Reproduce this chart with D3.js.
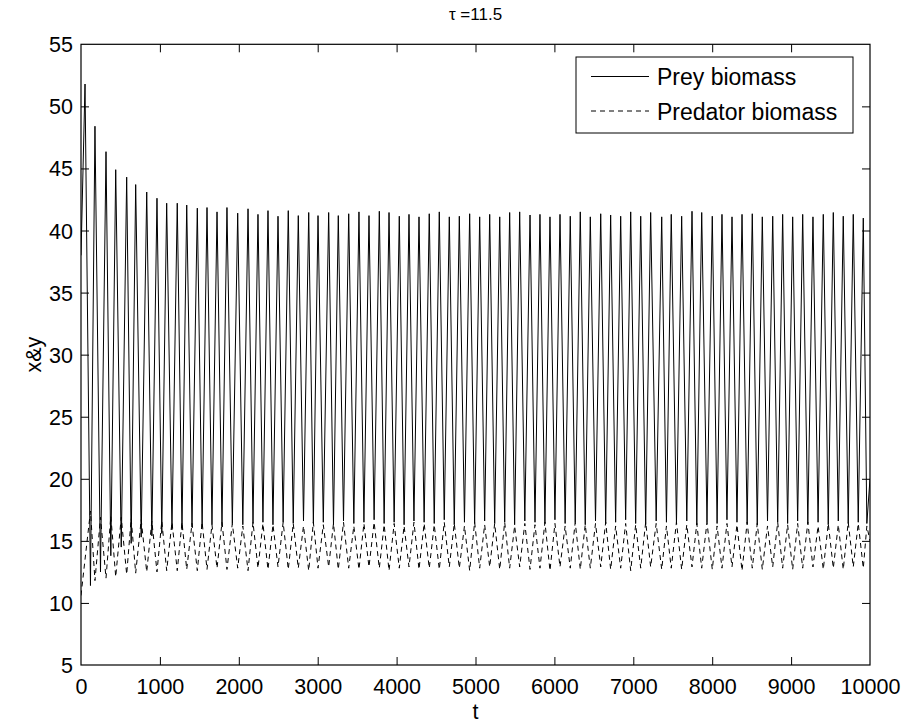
<!DOCTYPE html>
<html>
<head>
<meta charset="utf-8">
<script src="https://cdn.jsdelivr.net/npm/d3@7"></script>
<style>
  html, body { margin: 0; padding: 0; background: #fff; }
  svg { display: block; }
  text { font-family: "Liberation Sans", Arial, Helvetica, sans-serif; fill: #000; }
</style>
</head>
<body>
<svg id="chart" width="907" height="728"></svg>
<script>
// ---------------- data ----------------
const titleText = "\u03C4 =11.5";
const xLabel = "t";
const yLabel = "x&y";
const seriesNames = ["Prey biomass", "Predator biomass"];
const xTicks = [0, 1000, 2000, 3000, 4000, 5000, 6000, 7000, 8000, 9000, 10000];
const yTicks = [5, 10, 15, 20, 25, 30, 35, 40, 45, 50, 55];

// start / end samples
const edgeT    = [0, 10000];
const edgePrey = [38, 20];
const edgePred = [10.6, 15];

// times of prey maxima
const peakT = [51, 177, 317, 440, 579, 693, 833, 963, 1086, 1220,
  1340, 1474, 1597, 1724, 1850, 1986, 2117, 2243, 2370, 2497,
  2627, 2754, 2886, 3004, 3139, 3261, 3393, 3523, 3650, 3781,
  3904, 4034, 4157, 4284, 4414, 4541, 4668, 4795, 4926, 5053,
  5180, 5307, 5433, 5560, 5691, 5817, 5944, 6071, 6201, 6328,
  6455, 6587, 6713, 6840, 6967, 7094, 7220, 7360, 7481, 7613,
  7744, 7867, 8001, 8124, 8251, 8378, 8508, 8635, 8767, 8893,
  9020, 9147, 9277, 9408, 9535, 9661, 9788, 9915];
// prey values at those times
const peakPrey = [51.8, 48.4, 46.35, 44.9, 44.3, 43.7, 43.1, 42.6, 42.2, 42.2,
  42.05, 41.8, 41.85, 41.5, 41.85, 41.4, 41.75, 41.3, 41.6, 41.15,
  41.6, 41.2, 41.45, 41.2, 41.45, 41.2, 41.35, 41.5, 41.2, 41.55,
  41.45, 41.15, 41.3, 41.1, 41.35, 41.5, 41.1, 41.15, 41.35, 41.1,
  41.3, 41.1, 41.45, 41.5, 41.25, 41.3, 41.1, 41.3, 41.15, 41.5,
  41.1, 41.35, 41.25, 41.15, 41.5, 41.15, 41.45, 41.1, 41.3, 41.15,
  41.55, 41.45, 41.15, 41.3, 41.1, 41.3, 41.35, 41.1, 41.15, 41.3,
  41.1, 41.3, 41.1, 41.3, 41.45, 41.15, 41.3, 41.0];
// predator values at those times
const peakPred = [13.5, 11.8, 12.0, 12.1, 12.3, 12.4, 12.5, 12.5, 12.6, 12.6,
  12.7, 12.6, 12.7, 12.8, 12.7, 12.8, 12.6, 12.8, 12.7, 12.9,
  12.7, 12.8, 12.6, 12.8, 12.9, 12.7, 12.8, 12.7, 12.9, 12.8,
  12.6, 12.8, 12.9, 12.7, 12.8, 12.7, 12.9, 12.8, 12.6, 12.8,
  12.9, 12.7, 12.8, 12.9, 12.7, 12.8, 12.6, 12.9, 12.8, 12.7,
  12.8, 12.9, 12.7, 12.8, 12.6, 12.8, 12.9, 12.7, 12.8, 12.7,
  12.9, 12.8, 12.7, 12.8, 12.9, 12.6, 12.8, 12.7, 12.9, 12.8,
  12.7, 12.8, 12.9, 12.7, 12.8, 12.7, 12.9, 12.8];

// times of prey minima
const troughT = [120, 247, 378, 510, 636, 763, 898, 1024, 1153, 1280,
  1407, 1535, 1660, 1787, 1918, 2051, 2180, 2306, 2433, 2562,
  2690, 2820, 2945, 3071, 3200, 3327, 3458, 3586, 3715, 3842,
  3969, 4095, 4220, 4349, 4477, 4604, 4731, 4860, 4989, 5116,
  5243, 5370, 5496, 5625, 5754, 5880, 6007, 6136, 6264, 6391,
  6521, 6650, 6776, 6903, 7030, 7157, 7290, 7420, 7547, 7678,
  7805, 7934, 8062, 8187, 8314, 8443, 8571, 8701, 8830, 8956,
  9083, 9212, 9342, 9471, 9598, 9724, 9851, 9960];
const troughPrey = [11.4, 12.5, 13.8, 14.5, 14.8, 15.3, 15.4, 15.6, 15.9, 15.9,
  16.1, 16.1, 16.3, 16.2, 16.4, 16.3, 16.4, 16.5, 16.3, 16.5,
  16.4, 16.6, 16.4, 16.5, 16.3, 16.6, 16.4, 16.5, 16.7, 16.4,
  16.5, 16.3, 16.6, 16.5, 16.4, 16.7, 16.3, 16.5, 16.4, 16.6,
  16.4, 16.5, 16.3, 16.6, 16.5, 16.4, 16.7, 16.4, 16.5, 16.3,
  16.6, 16.4, 16.5, 16.7, 16.4, 16.3, 16.6, 16.5, 16.4, 16.6,
  16.3, 16.5, 16.4, 16.7, 16.5, 16.4, 16.3, 16.6, 16.5, 16.4,
  16.6, 16.4, 16.5, 16.3, 16.6, 16.4, 16.5, 16.4];
const troughPred = [17.4, 16.9, 17.0, 16.9, 16.8, 16.7, 16.6, 16.6, 16.5, 16.5,
  16.4, 16.5, 16.3, 16.5, 16.4, 16.2, 16.5, 16.4, 16.3, 16.5,
  16.4, 16.2, 16.5, 16.3, 16.4, 16.5, 16.2, 16.4, 16.5, 16.3,
  16.4, 16.2, 16.5, 16.4, 16.3, 16.5, 16.4, 16.2, 16.5, 16.3,
  16.4, 16.5, 16.2, 16.4, 16.3, 16.5, 16.4, 16.2, 16.5, 16.3,
  16.4, 16.5, 16.2, 16.4, 16.3, 16.5, 16.4, 16.2, 16.5, 16.3,
  16.4, 16.5, 16.2, 16.4, 16.3, 16.5, 16.4, 16.2, 16.5, 16.3,
  16.4, 16.5, 16.2, 16.4, 16.3, 16.5, 16.4, 16.2];

// ---------------- build the sampled table ----------------
const samples = [];
edgeT.forEach((t, i) => samples.push({t, prey: edgePrey[i], pred: edgePred[i]}));
peakT.forEach((t, i) => samples.push({t, prey: peakPrey[i], pred: peakPred[i]}));
troughT.forEach((t, i) => samples.push({t, prey: troughPrey[i], pred: troughPred[i]}));
samples.sort((a, b) => a.t - b.t);

// ---------------- layout ----------------
const svg = d3.select("#chart");
const mLeft = 81, mRight = 870, mTop = 44.3, mBottom = 665;
const x = d3.scaleLinear().domain([0, 10000]).range([mLeft, mRight]);
const y = d3.scaleLinear().domain([5, 55]).range([mBottom, mTop]);

const fontTick = "21.5px";

svg.append("rect").attr("x", 0).attr("y", 0).attr("width", 907).attr("height", 728).attr("fill", "#fff");

svg.append("clipPath").attr("id", "clip")
  .append("rect").attr("x", mLeft).attr("y", mTop).attr("width", mRight - mLeft).attr("height", mBottom - mTop);

const plot = svg.append("g").attr("clip-path", "url(#clip)");

const linePrey = d3.line().x(d => x(d.t)).y(d => y(d.prey));
const linePred = d3.line().x(d => x(d.t)).y(d => y(d.pred));

plot.append("path").datum(samples)
  .attr("d", linePred)
  .attr("fill", "none").attr("stroke", "#000").attr("stroke-width", 1)
  .attr("stroke-dasharray", "5,4");

plot.append("path").datum(samples)
  .attr("d", linePrey)
  .attr("fill", "none").attr("stroke", "#000").attr("stroke-width", 1);

// axes (MATLAB style box with inward ticks on all sides)
const tickLen = 8;
const axB = svg.append("g").attr("transform", `translate(0,${mBottom})`)
  .call(d3.axisBottom(x).tickValues(xTicks).tickSizeInner(-tickLen).tickSizeOuter(0).tickPadding(14).tickFormat(d3.format("d")));
const axT = svg.append("g").attr("transform", `translate(0,${mTop})`)
  .call(d3.axisTop(x).tickValues(xTicks).tickSizeInner(-tickLen).tickSizeOuter(0).tickFormat(""));
const axL = svg.append("g").attr("transform", `translate(${mLeft},0)`)
  .call(d3.axisLeft(y).tickValues(yTicks).tickSizeInner(-tickLen).tickSizeOuter(0).tickPadding(16).tickFormat(d3.format("d")));
const axR = svg.append("g").attr("transform", `translate(${mRight},0)`)
  .call(d3.axisRight(y).tickValues(yTicks).tickSizeInner(-tickLen).tickSizeOuter(0).tickFormat(""));

[axB, axT, axL, axR].forEach(a => {
  a.select(".domain").remove();
  a.selectAll("line").attr("stroke", "#000").attr("stroke-width", 1);
  a.selectAll("text").style("font-size", fontTick).style("font-family", '"Liberation Sans", Arial, sans-serif').attr("fill", "#000");
});
[axB, axT].forEach(a => a.selectAll(".tick").filter(d => d === 0 || d === 10000).select("line").remove());
[axL, axR].forEach(a => a.selectAll(".tick").filter(d => d === 5 || d === 55).select("line").remove());

axB.selectAll("text").attr("dy", "0.71em").attr("y", 14);
axL.selectAll("text").attr("x", -8).attr("dy", "0.35em");

// frame
svg.append("rect").attr("x", mLeft).attr("y", mTop).attr("width", mRight - mLeft).attr("height", mBottom - mTop)
  .attr("fill", "none").attr("stroke", "#000").attr("stroke-width", 1.2);

// title & labels
svg.append("text").attr("x", (mLeft + mRight) / 2).attr("y", 20).attr("text-anchor", "middle")
  .style("font-size", "17px").text(titleText);
svg.append("text").attr("x", (mLeft + mRight) / 2).attr("y", 719).attr("text-anchor", "middle")
  .style("font-size", "21.5px").text(xLabel);
svg.append("text").attr("transform", `translate(41,${(mTop + mBottom) / 2}) rotate(-90)`).attr("text-anchor", "middle")
  .style("font-size", "21.5px").text(yLabel);

// legend
const lg = svg.append("g");
lg.append("rect").attr("x", 576).attr("y", 57).attr("width", 277).attr("height", 76)
  .attr("fill", "#fff").attr("stroke", "#000").attr("stroke-width", 1);
const legendRows = [{name: seriesNames[0], dash: null, yy: 76.5, by: 85},
                    {name: seriesNames[1], dash: "5,4", yy: 111, by: 120}];
legendRows.forEach(r => {
  const ln = lg.append("line").attr("x1", 591).attr("x2", 649).attr("y1", r.yy).attr("y2", r.yy)
    .attr("stroke", "#000").attr("stroke-width", 1);
  if (r.dash) ln.attr("stroke-dasharray", r.dash);
  lg.append("text").attr("x", 657).attr("y", r.by).style("font-size", "23px").text(r.name);
});
</script>
</body>
</html>
